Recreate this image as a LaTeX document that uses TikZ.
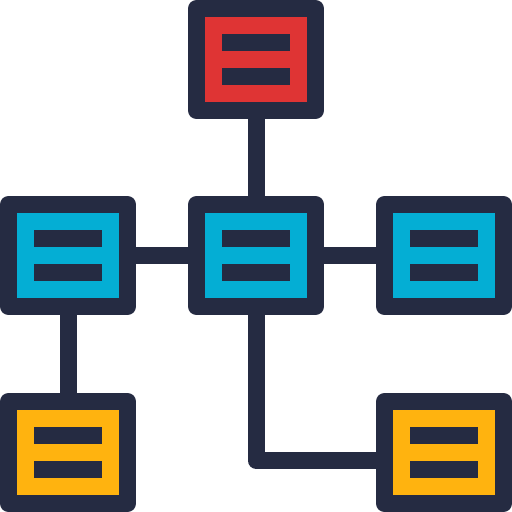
\documentclass[tikz,border=0pt]{standalone}
\usepackage{tikz}
\usetikzlibrary{calc, positioning}

\definecolor{ink}{RGB}{37,43,66}
\definecolor{boxred}{RGB}{223,52,52}
\definecolor{boxblue}{RGB}{4,174,212}
\definecolor{boxyellow}{RGB}{255,179,15}

\begin{document}
\begin{tikzpicture}[node distance = 3.76cm, on grid,
    box/.style = {draw=ink, line width=0.34cm, line join=round,
                  minimum width=2.38cm, minimum height=2.04cm, inner sep=0pt},
    link/.style = {draw=ink, line width=0.34cm, line join=round}]
  \useasboundingbox (0,0) rectangle (10.24,-10.24);

  % Boxes of the chart
  \node[box, fill=boxred]    (top)  at (5.12,-1.19)  {};
  \node[box, fill=boxblue]   (mid)  [below=3.92cm of top] {};
  \node[box, fill=boxblue]   (left) [left=of mid]  {};
  \node[box, fill=boxblue]   (right)[right=of mid] {};
  \node[box, fill=boxyellow] (botl) [below=3.94cm of left]  {};
  \node[box, fill=boxyellow] (botr) [below=3.94cm of right] {};

  % Links between boxes
  \coordinate (turn) at ([yshift=-0.16cm]botr.west);
  \path[link] (top) -- (mid)
              (left) -- (mid)
              (mid) -- (right)
              (left) -- (botl)
              (mid.south) |- (turn);

  % Bars inside each box
  \foreach \n in {top, mid, left, right, botl, botr} {
    \fill[ink] ([shift={(-0.68,0.51)}]\n.center) rectangle ([shift={(0.68,0.17)}]\n.center);
    \fill[ink] ([shift={(-0.68,-0.17)}]\n.center) rectangle ([shift={(0.68,-0.51)}]\n.center);
  }
\end{tikzpicture}
\end{document}
